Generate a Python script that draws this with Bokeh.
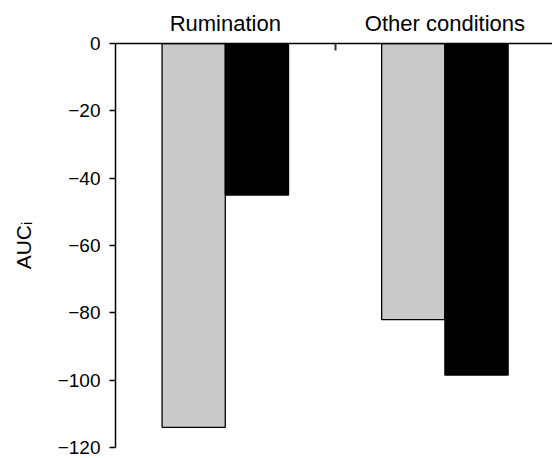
import numpy as np
from bokeh.plotting import figure
from bokeh.models import Range1d, FixedTicker
from bokeh.embed import file_html
from bokeh.resources import INLINE

# ---- data ----
categories = ["Rumination", "Other conditions"]
series_gray = [-114, -82]
series_black = [-45, -98.5]
y_ticks = [0, -20, -40, -60, -80, -100, -120]
y_tick_labels = ["0", "\u221220", "\u221240", "\u221260", "\u221280", "\u2212100", "\u2212120"]
y_title = "AUC\u1d62"

FONT = "Liberation Sans"

centers = np.arange(len(categories)) + 0.5
bar_w = 0.288
off = 0.144

p = figure(width=552, height=458,
           x_range=Range1d(0, 1.99), y_range=Range1d(-120, 0),
           x_axis_location="above",
           output_backend="svg", toolbar_location=None,
           min_border_left=115, min_border_right=0,
           min_border_top=43, min_border_bottom=11)

p.vbar(x=centers - off, width=bar_w, top=0, bottom=series_gray,
       fill_color="#cacaca", line_color="black", line_width=1.3)
p.vbar(x=centers + off, width=bar_w, top=0, bottom=series_black,
       fill_color="black", line_color="black", line_width=1.3)

p.grid.visible = False
p.outline_line_color = None
p.background_fill_color = "white"
p.border_fill_color = "white"

# top axis: category labels, tick at category boundary pointing inward
xa = p.xaxis[0]
xa.ticker = FixedTicker(ticks=list(centers), minor_ticks=[1.0])
xa.major_label_overrides = {float(c): n for c, n in zip(centers, categories)}
xa.major_tick_line_color = None
xa.major_tick_out = 0
xa.major_tick_in = 0
xa.minor_tick_in = 7
xa.minor_tick_out = 0
xa.minor_tick_line_color = "#333333"
xa.minor_tick_line_width = 2
xa.axis_line_color = "black"
xa.axis_line_width = 1.5
xa.major_label_standoff = 8
xa.major_label_text_font = FONT
xa.major_label_text_font_size = "22px"
xa.major_label_text_color = "black"

# left axis
ya = p.yaxis[0]
ya.ticker = FixedTicker(ticks=y_ticks, minor_ticks=[])
ya.major_label_overrides = {t: s for t, s in zip(y_ticks, y_tick_labels)}
ya.major_tick_out = 6
ya.major_tick_in = 0
ya.major_tick_line_width = 1.5
ya.major_tick_line_color = "black"
ya.axis_line_color = "black"
ya.axis_line_width = 1.5
ya.major_label_standoff = 9
ya.major_label_text_font = FONT
ya.major_label_text_font_size = "19px"
ya.major_label_text_color = "black"
ya.axis_label = y_title
ya.axis_label_text_font = FONT
ya.axis_label_text_font_size = "21px"
ya.axis_label_text_font_style = "normal"
ya.axis_label_text_color = "black"
ya.axis_label_standoff = 20

open("out.html", "w").write(file_html(p, INLINE))
